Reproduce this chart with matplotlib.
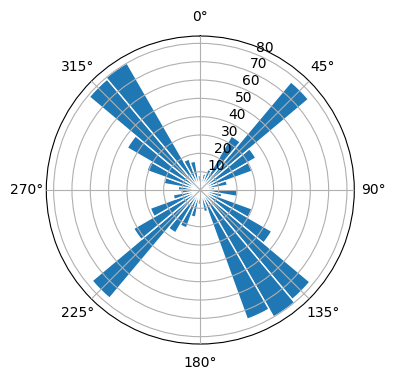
import numpy as np
import matplotlib.pyplot as plt

# 10 degree bins, compass style (0 = north, clockwise)
bin_start_deg = np.arange(0, 360, 10)
counts = [6, 9, 12, 34, 77, 35, 30, 15, 8,
          20, 12, 30, 45, 78, 80, 75, 12, 5,
          8, 15, 22, 27, 77, 42, 29, 15, 10,
          12, 20, 31, 46, 79, 80, 18, 16, 8]

theta = np.deg2rad(bin_start_deg + 5)
width = np.deg2rad(10)

fig = plt.figure(figsize=(3.96, 3.8), dpi=100)
ax = fig.add_axes([0.1169, 0.0947, 0.7778, 0.8105], projection='polar')
ax.set_theta_zero_location('N')
ax.set_theta_direction(-1)
ax.bar(theta, counts, width=width, bottom=0.0, edgecolor='white', linewidth=1)
ax.set_rticks(np.arange(10, 90, 10))
ax.set_rlim(0, 84)
ax.set_axisbelow(False)
ax.grid(True)

plt.savefig('out.png', dpi=100)
